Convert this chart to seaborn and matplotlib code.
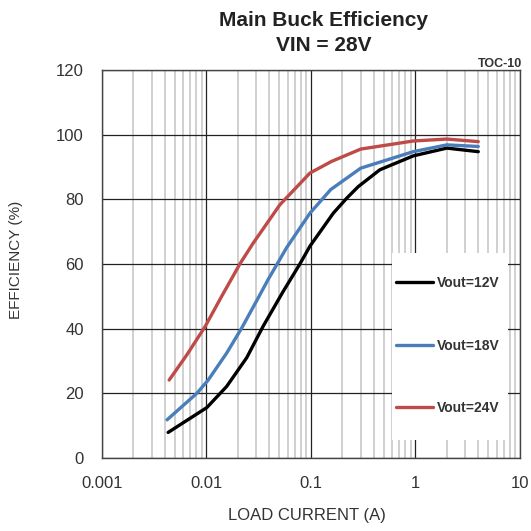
import matplotlib
matplotlib.use('Agg')
import matplotlib.pyplot as plt
import matplotlib.ticker as mticker
from matplotlib.patches import Rectangle
import seaborn as sns
import numpy as np
import pandas as pd

# load current (A) / efficiency (%)
i_12 = [0.0043, 0.0101, 0.0156, 0.0243, 0.035, 0.0543, 0.0785, 0.098, 0.164,
        0.22, 0.284, 0.457, 0.955, 2.0, 4.0]
eff_12 = [7.9, 15.6, 22.1, 31.0, 40.8, 51.5, 60.0, 65.5, 75.7,
          80.3, 83.9, 89.1, 93.4, 95.8, 94.7]

i_18 = [0.0042, 0.0081, 0.0104, 0.0156, 0.0217, 0.0306, 0.039, 0.047, 0.0585,
        0.098, 0.155, 0.3, 0.955, 2.0, 4.0]
eff_18 = [11.8, 20.0, 24.1, 32.4, 40.1, 48.9, 55.2, 59.7, 65.0,
          75.7, 83.0, 89.6, 94.7, 96.8, 96.3]

i_24 = [0.0044, 0.0065, 0.0097, 0.014, 0.0174, 0.0209, 0.028, 0.0505, 0.098,
        0.158, 0.3, 0.955, 2.0, 4.0]
eff_24 = [24.1, 31.9, 40.6, 50.0, 55.4, 60.0, 66.4, 78.3, 88.1,
          91.7, 95.5, 98.0, 98.6, 97.8]

labels = ['Vout=12V', 'Vout=18V', 'Vout=24V']
colors = ['#000000', '#4a7ebb', '#be4b48']

df = pd.concat([
    pd.DataFrame({'I': i_12, 'eff': eff_12, 'vout': labels[0]}),
    pd.DataFrame({'I': i_18, 'eff': eff_18, 'vout': labels[1]}),
    pd.DataFrame({'I': i_24, 'eff': eff_24, 'vout': labels[2]}),
])

sns.set_style('white')
plt.rcParams['font.family'] = ['Liberation Sans', 'DejaVu Sans']

fig = plt.figure(figsize=(5.31, 5.31), dpi=100)
ax = fig.add_axes([0.192, 0.1375, 0.787, 0.731])

sns.lineplot(data=df, x='I', y='eff', hue='vout', hue_order=labels,
             palette=colors, linewidth=2.4, sort=False, estimator=None, ax=ax)

ax.set_xscale('log')
ax.set_xlim(0.001, 10)
ax.set_ylim(0, 120)
ax.set_yticks(np.arange(0, 121, 20))
ax.xaxis.set_major_locator(mticker.LogLocator(base=10))
ax.xaxis.set_minor_locator(mticker.LogLocator(base=10, subs=np.arange(2, 10)))
ax.xaxis.set_major_formatter(mticker.FuncFormatter(lambda v, p: '%g' % v))
ax.xaxis.set_minor_formatter(mticker.NullFormatter())

ax.grid(which='minor', axis='x', color='#c8c8c8', linewidth=1.2)
ax.grid(which='major', axis='both', color='#222222', linewidth=0.9)
ax.set_axisbelow(True)
ax.tick_params(which='both', length=0, labelsize=12, colors='#333333')
ax.tick_params(axis='x', pad=13)
ax.tick_params(axis='y', pad=13)

for s in ax.spines.values():
    s.set_color('#444444')
    s.set_linewidth(1)

ax.set_xlabel('LOAD CURRENT (A)', fontsize=12, color='#333333')
ax.xaxis.set_label_coords(0.49, -0.129)
ax.set_ylabel('')
fig.text(0.030, 0.51, 'EFFICIENCY (%)', rotation=90, ha='center', va='center',
         fontsize=11, color='#333333')

fig.text(0.610, 0.961, 'Main Buck Efficiency', ha='center', va='center',
         fontsize=15, fontweight='bold', color='#222222')
fig.text(0.610, 0.914, 'VIN = 28V', ha='center', va='center',
         fontsize=15, fontweight='bold', color='#222222')
fig.text(0.983, 0.880, 'TOC-10', ha='right', va='center', fontsize=9,
         fontweight='bold', color='#333333')

# white box behind the legend, hides the grid
ax.add_patch(Rectangle((0.694, 0.046), 0.277, 0.482, transform=ax.transAxes,
                       facecolor='white', edgecolor='none', zorder=1))

leg = ax.legend(loc='upper left', bbox_to_anchor=(0.703, 0.469),
                fontsize=10, labelspacing=3.5, handlelength=2.66,
                handletextpad=0.3, borderpad=0, borderaxespad=0,
                frameon=False)
for t in leg.get_texts():
    t.set_fontweight('bold')
    t.set_color('#333333')

fig.savefig('out.png', dpi=100)
